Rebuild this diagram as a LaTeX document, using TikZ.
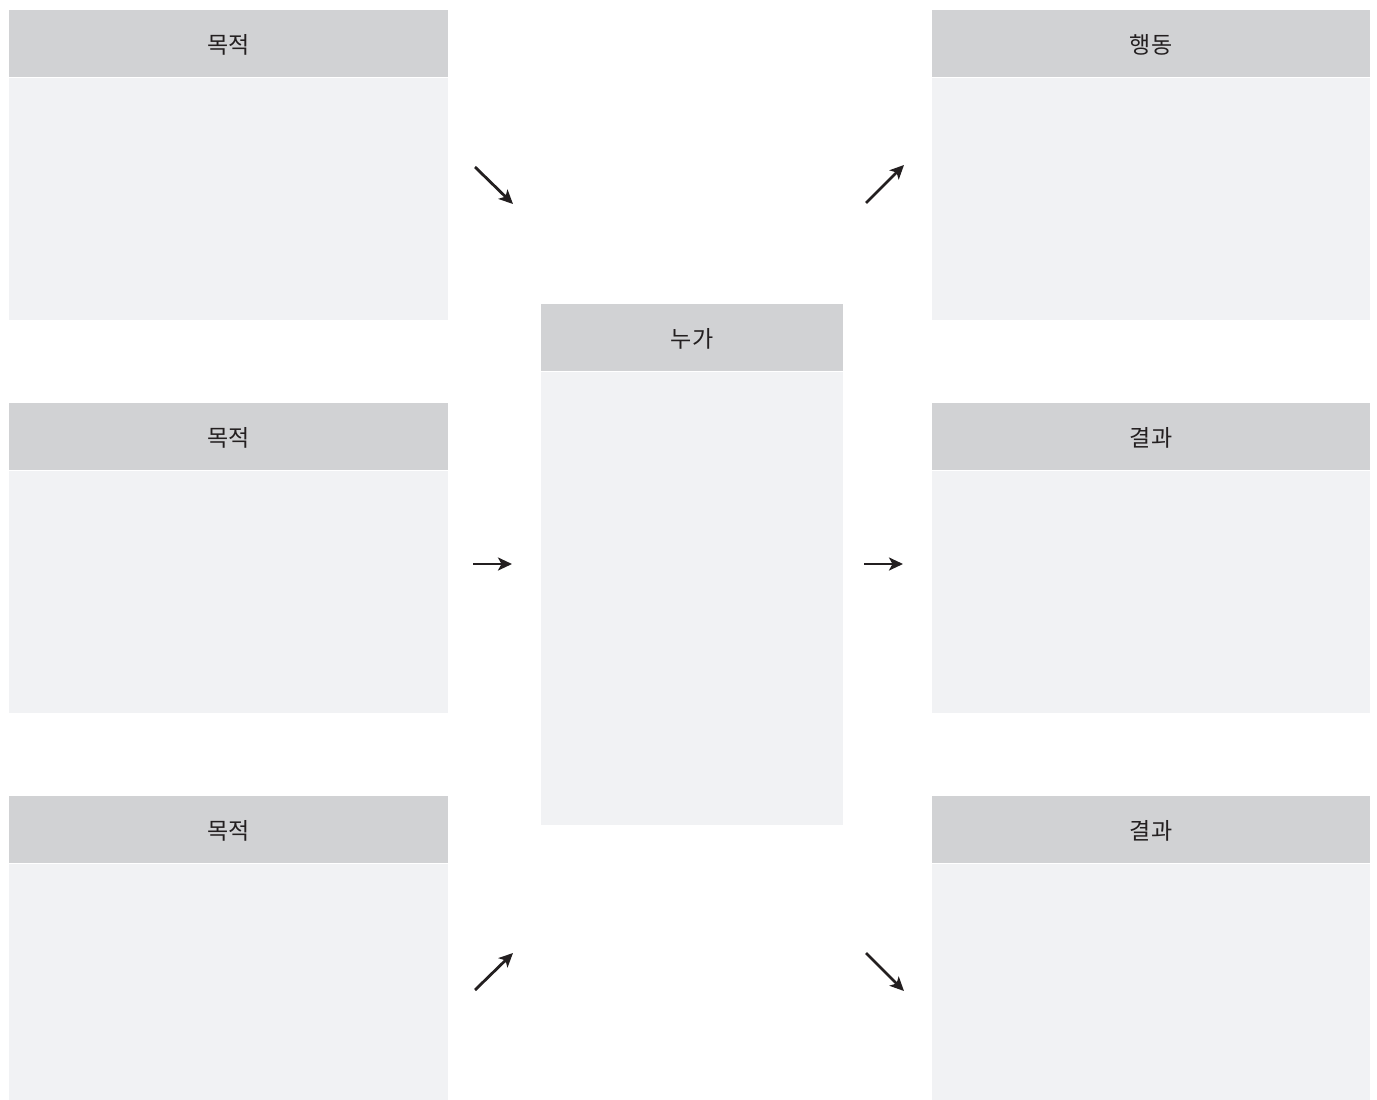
\documentclass[tikz,border=0pt]{standalone}
\usepackage{fontspec}
\newfontfamily\kr{Noto Sans CJK KR}
\usetikzlibrary{arrows.meta}
\definecolor{hdr}{HTML}{D1D2D4}
\definecolor{bdy}{HTML}{F1F2F4}
\definecolor{ink}{HTML}{231F20}
\tikzset{
  hbox/.style={fill=hdr,draw=none},
  bbox/.style={fill=bdy,draw=none},
  lab/.style={font=\kr\fontsize{23}{27}\selectfont,text=ink,inner sep=0pt},
  arr/.style={draw=ink,line width=2.8pt,-{Stealth[length=14pt,width=13pt,inset=3.5pt]}}
}
\newcommand{\panel}[6]{% name, x1, x2, ytop, ybot, label
  \fill[hbox] (#2,#4) rectangle (#3,#4+67);
  \fill[bbox] (#2,#4+68) rectangle (#3,#5);
  \node[lab] (#1) at ({(#2+#3)/2},#4+35) {#6};
}
\begin{document}
\begin{tikzpicture}[x=1pt,y=-1pt]
\useasboundingbox[fill=white] (0,0) rectangle (1377,1100);
\panel{l1}{9}{448}{10}{320}{목적}
\panel{l2}{9}{448}{403}{713}{목적}
\panel{l3}{9}{448}{796}{1100}{목적}
\panel{r1}{932}{1370}{10}{320}{행동}
\panel{r2}{932}{1370}{403}{713}{결과}
\panel{r3}{932}{1370}{796}{1100}{결과}
\panel{c}{541}{843}{304}{825}{누가}
\coordinate (a1s) at (475,167); \coordinate (a1e) at (513,204);
\coordinate (a2s) at (473,564); \coordinate (a2e) at (512,564);
\coordinate (a3s) at (475,990); \coordinate (a3e) at (513,953);
\coordinate (b1s) at (866,203); \coordinate (b1e) at (904,165);
\coordinate (b2s) at (864,564); \coordinate (b2e) at (903,564);
\coordinate (b3s) at (866,953); \coordinate (b3e) at (904,991);
\draw[arr] (a1s) -- (a1e);
\draw[arr] (a2s) -- (a2e);
\draw[arr] (a3s) -- (a3e);
\draw[arr] (b1s) -- (b1e);
\draw[arr] (b2s) -- (b2e);
\draw[arr] (b3s) -- (b3e);
\end{tikzpicture}
\end{document}
